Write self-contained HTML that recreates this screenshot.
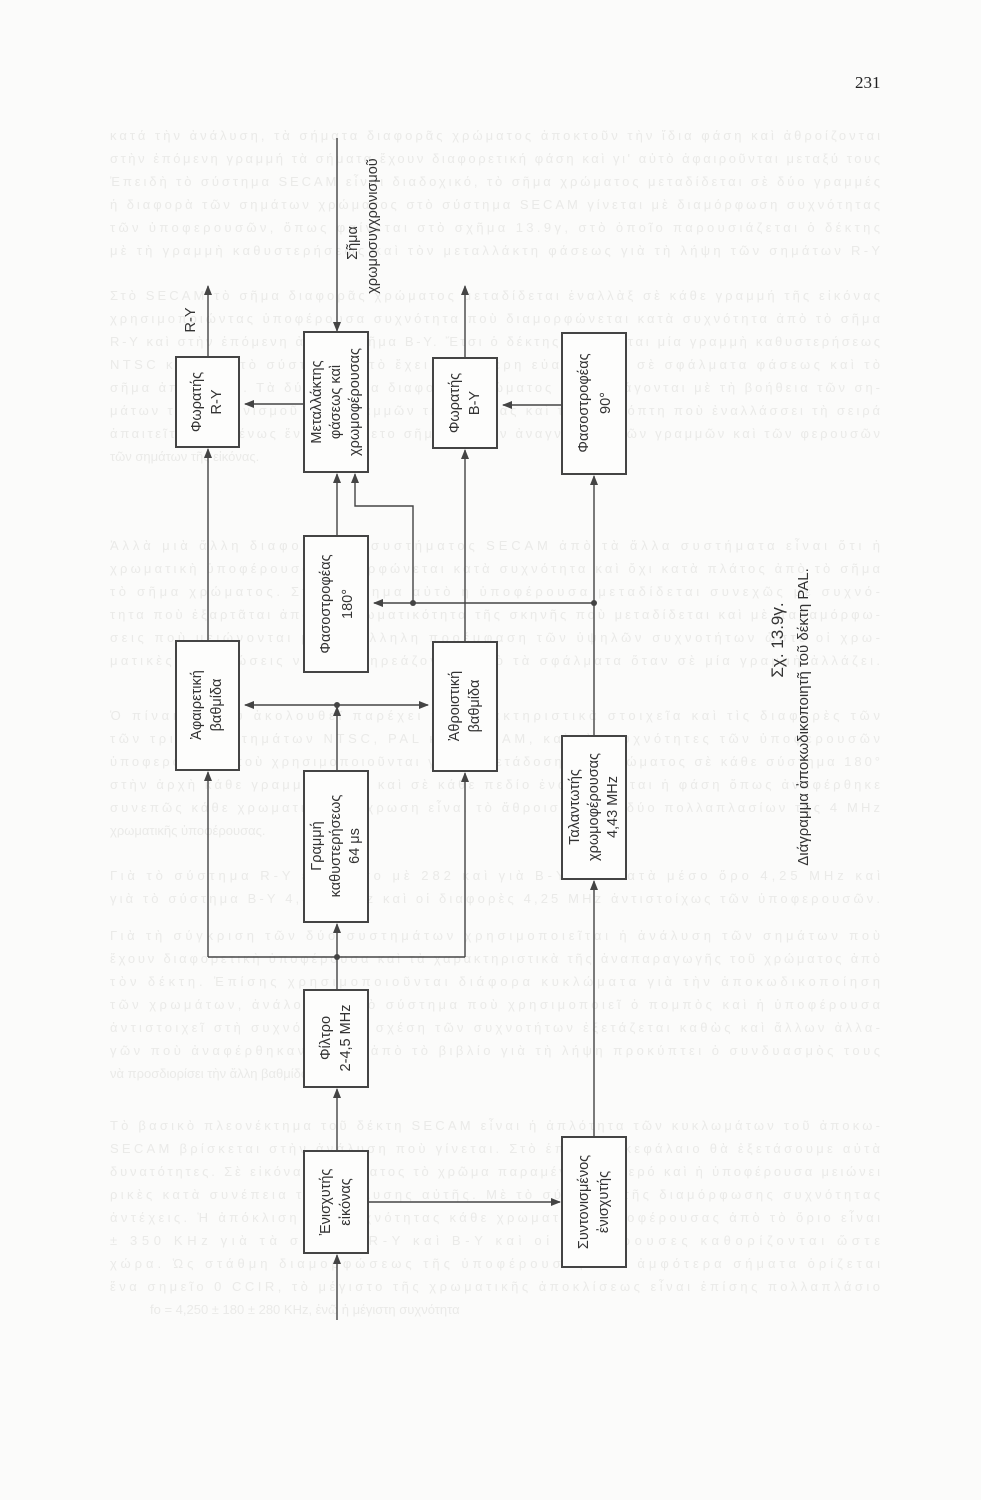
<!DOCTYPE html>
<html><head><meta charset="utf-8"><style>
html,body{margin:0;padding:0;background:#fbfbfa;}
svg{display:block}
text{font-family:"Liberation Sans","DejaVu Sans",sans-serif;fill:#333;}
.bg text{fill:#eaeae8;font-size:13px;}
</style></head><body>
<svg width="981" height="1500" viewBox="0 0 981 1500" xmlns="http://www.w3.org/2000/svg">
<defs><marker id="a" markerWidth="10" markerHeight="8" refX="9" refY="4" orient="auto" markerUnits="userSpaceOnUse"><path d="M0,0 L10,4 L0,8 Z" fill="#444"/></marker></defs>
<g class="bg">
<text x="110" y="140" textLength="770">κατά τὴν ἀνάλυση, τὰ σήματα διαφορᾶς χρώματος ἀποκτοῦν τὴν ἴδια φάση καὶ ἀθροίζονται</text>
<text x="110" y="163" textLength="770">στὴν ἐπόμενη γραμμή τὰ σήματα ἔχουν διαφορετική φάση καὶ γι' αὐτὸ ἀφαιροῦνται μεταξύ τους</text>
<text x="110" y="186" textLength="770">Ἐπειδὴ τὸ σύστημα SECAM εἶναι διαδοχικό, τὸ σῆμα χρώματος μεταδίδεται σὲ δύο γραμμές</text>
<text x="110" y="209" textLength="770">ἡ διαφορὰ τῶν σημάτων χρώματος στὸ σύστημα SECAM γίνεται μὲ διαμόρφωση συχνότητας</text>
<text x="110" y="232" textLength="770">τῶν ὑποφερουσῶν, ὅπως φαίνεται στὸ σχῆμα 13.9γ, στὸ ὁποῖο παρουσιάζεται ὁ δέκτης</text>
<text x="110" y="255" textLength="770">μὲ τὴ γραμμὴ καθυστερήσεως καὶ τὸν μεταλλάκτη φάσεως γιὰ τὴ λήψη τῶν σημάτων R-Y</text>
<text x="110" y="300" textLength="770">Στὸ SECAM τὸ σῆμα διαφορᾶς χρώματος μεταδίδεται ἐναλλὰξ σὲ κάθε γραμμή τῆς εἰκόνας</text>
<text x="110" y="323" textLength="770">χρησιμοποιώντας ὑποφέρουσα συχνότητα ποὺ διαμορφώνεται κατὰ συχνότητα ἀπὸ τὸ σῆμα</text>
<text x="110" y="346" textLength="770">R-Y καὶ στὴν ἐπόμενη ἀπὸ τὸ σῆμα B-Y. Ἔτσι ὁ δέκτης χρειάζεται μία γραμμὴ καθυστερήσεως</text>
<text x="110" y="369" textLength="770">NTSC καὶ PAL τὸ σύστημα αὐτὸ ἔχει μικρότερη εὐαισθησία σὲ σφάλματα φάσεως καὶ τὸ</text>
<text x="110" y="392" textLength="770">σῆμα ἀποκτᾶται. Τὰ δύο σήματα διαφορᾶς χρώματος ἀναπαράγονται μὲ τὴ βοήθεια τῶν ση-</text>
<text x="110" y="415" textLength="770">μάτων ταυτοχρονισμοῦ τῶν γραμμῶν τῆς εἰκόνας καὶ τοῦ διακόπτη ποὺ ἐναλλάσσει τὴ σειρά</text>
<text x="110" y="438" textLength="770">ἀπαιτεῖται ἐπομένως ἕνα πρόσθετο σῆμα γιὰ τὴν ἀναγνώριση τῶν γραμμῶν καὶ τῶν φερουσῶν</text>
<text x="110" y="461">τῶν σημάτων τῆς εἰκόνας.</text>
<text x="110" y="550" textLength="770">Ἀλλὰ μιὰ ἄλλη διαφορὰ τοῦ συστήματος SECAM ἀπὸ τὰ ἄλλα συστήματα εἶναι ὅτι ἡ</text>
<text x="110" y="573" textLength="770">χρωματικὴ ὑποφέρουσα διαμορφώνεται κατὰ συχνότητα καὶ ὄχι κατὰ πλάτος ἀπὸ τὸ σῆμα</text>
<text x="110" y="596" textLength="770">τὸ σῆμα χρώματος. Στὸ σύστημα αὐτὸ ἡ ὑποφέρουσα μεταδίδεται συνεχῶς μὲ συχνό-</text>
<text x="110" y="619" textLength="770">τητα ποὺ ἐξαρτᾶται ἀπὸ τὴ χρωματικότητα τῆς σκηνῆς ποὺ μεταδίδεται καὶ μὲ παραμόρφω-</text>
<text x="110" y="642" textLength="770">σεις ποὺ μειώνονται μὲ κατάλληλη προέμφαση τῶν ὑψηλῶν συχνοτήτων ὥστε οἱ χρω-</text>
<text x="110" y="665" textLength="770">ματικὲς ἀποχρώσεις νὰ μὴ ἐπηρεάζονται ἀπὸ τὰ σφάλματα ὅταν σὲ μία γραμμὴ ἀλλάζει.</text>
<text x="110" y="720" textLength="770">Ὁ πίνακας ποὺ ἀκολουθεῖ παρέχει τὰ χαρακτηριστικὰ στοιχεῖα καὶ τὶς διαφορὲς τῶν</text>
<text x="110" y="743" textLength="770">τῶν τριῶν συστημάτων NTSC, PAL καὶ SECAM, καὶ τὶς συχνότητες τῶν ὑποφερουσῶν</text>
<text x="110" y="766" textLength="770">ὑποφερουσῶν ποὺ χρησιμοποιοῦνται γιὰ τὴ μετάδοση τοῦ χρώματος σὲ κάθε σύστημα 180°</text>
<text x="110" y="789" textLength="770">στὴν ἀρχὴ κάθε γραμμῆς ἀλλὰ καὶ σὲ κάθε πεδίο ἐναλλάσσεται ἡ φάση ὅπως ἀναφέρθηκε</text>
<text x="110" y="812" textLength="770">συνεπῶς κάθε χρωματικὴ ἀπόχρωση εἶναι τὸ ἄθροισμα τῶν δύο πολλαπλασίων τῆς 4 MHz</text>
<text x="110" y="835">χρωματικῆς ὑποφέρουσας.</text>
<text x="110" y="880" textLength="770">Γιὰ τὸ σύστημα R-Y εἶναι ἴσο μὲ 282 καὶ γιὰ B-Y 272 κατὰ μέσο ὅρο 4,25 MHz καὶ</text>
<text x="110" y="903" textLength="770">γιὰ τὸ σύστημα B-Y 4,406 MHz καὶ οἱ διαφορὲς 4,25 MHz ἀντιστοίχως τῶν ὑποφερουσῶν.</text>
<text x="110" y="940" textLength="770">Γιὰ τὴ σύγκριση τῶν δύο συστημάτων χρησιμοποιεῖται ἡ ἀνάλυση τῶν σημάτων ποὺ</text>
<text x="110" y="963" textLength="770">ἔχουν διαφορετικὴ ὑποφέρουσα καὶ τὰ χαρακτηριστικὰ τῆς ἀναπαραγωγῆς τοῦ χρώματος ἀπὸ</text>
<text x="110" y="986" textLength="770">τὸν δέκτη. Ἐπίσης χρησιμοποιοῦνται διάφορα κυκλώματα γιὰ τὴν ἀποκωδικοποίηση</text>
<text x="110" y="1009" textLength="770">τῶν χρωμάτων, ἀνάλογα μὲ τὸ σύστημα ποὺ χρησιμοποιεῖ ὁ πομπὸς καὶ ἡ ὑποφέρουσα</text>
<text x="110" y="1032" textLength="770">ἀντιστοιχεῖ στὴ συχνότητα. Ἡ σχέση τῶν συχνοτήτων ἐξετάζεται καθὼς καὶ ἄλλων ἀλλα-</text>
<text x="110" y="1055" textLength="770">γῶν ποὺ ἀναφέρθηκαν. Ἔτσι ἀπὸ τὸ βιβλίο γιὰ τὴ λήψη προκύπτει ὁ συνδυασμὸς τους</text>
<text x="110" y="1078">νὰ προσδιορίσει τὴν ἄλλη βαθμίδα.</text>
<text x="110" y="1130" textLength="770">Τὸ βασικὸ πλεονέκτημα τοῦ δέκτη SECAM εἶναι ἡ ἀπλότητα τῶν κυκλωμάτων τοῦ ἀποκω-</text>
<text x="110" y="1153" textLength="770">SECAM βρίσκεται στὴν ἀνάλυση ποὺ γίνεται. Στὸ ἑπόμενο κεφάλαιο θὰ ἐξετάσουμε αὐτὰ</text>
<text x="110" y="1176" textLength="770">δυνατότητες. Σὲ εἰκόνα συστήματος τὸ χρῶμα παραμένει σταθερό καὶ ἡ ὑποφέρουσα μειώνει</text>
<text x="110" y="1199" textLength="770">ρικὲς κατὰ συνέπεια τῆς ἀνάλυσης αὐτῆς. Μὲ τὸ σύστημα τῆς διαμόρφωσης συχνότητας</text>
<text x="110" y="1222" textLength="770">ἀντέχεις. Ἡ ἀπόκλιση τῆς συχνότητας κάθε χρωματικῆς ὑποφέρουσας ἀπὸ τὸ ὄριο εἶναι</text>
<text x="110" y="1245" textLength="770">± 350 KHz γιὰ τὰ σήματα R-Y καὶ B-Y καὶ οἱ ὑποφέρουσες καθορίζονται ὥστε</text>
<text x="110" y="1268" textLength="770">χώρα. Ὡς στάθμη διαμορφώσεως τῆς ὑποφέρουσας ἀπὸ ἀμφότερα σήματα ὁρίζεται</text>
<text x="110" y="1291" textLength="770">ἕνα σημεῖο 0 CCIR, τὸ μέγιστο τῆς χρωματικῆς ἀποκλίσεως εἶναι ἐπίσης πολλαπλάσιο</text>
<text x="150" y="1314">fo = 4,250 ± 180 ± 280 KHz, ἐνῶ ἡ μέγιστη συχνότητα</text>
</g>
<text x="855" y="88" style="font-family:'Liberation Serif',serif;font-size:17px;fill:#222">231</text>

<g fill="#fdfdfc" stroke="#444" stroke-width="2">
<rect x="176" y="357" width="63" height="90"/>
<rect x="304" y="332" width="64" height="140"/>
<rect x="433" y="358" width="64" height="90"/>
<rect x="562" y="333" width="64" height="141"/>
<rect x="304" y="536" width="64" height="136"/>
<rect x="176" y="641" width="63" height="129"/>
<rect x="433" y="642" width="64" height="129"/>
<rect x="304" y="771" width="64" height="151"/>
<rect x="562" y="736" width="64" height="143"/>
<rect x="304" y="990" width="64" height="97"/>
<rect x="304" y="1151" width="64" height="102"/>
<rect x="562" y="1137" width="64" height="130"/>
</g>

<g stroke="#444" stroke-width="1.4" fill="none">
<line x1="208" y1="357" x2="208" y2="286" marker-end="url(#a)"/>
<line x1="465" y1="358" x2="465" y2="286" marker-end="url(#a)"/>
<line x1="337" y1="138" x2="337" y2="331" marker-end="url(#a)"/>
<line x1="304" y1="404" x2="245" y2="404" marker-end="url(#a)"/>
<line x1="562" y1="405" x2="503" y2="405" marker-end="url(#a)"/>
<line x1="337" y1="536" x2="337" y2="474" marker-end="url(#a)"/>
<polyline points="413,603 413,506 355,506 355,474" marker-end="url(#a)"/>
<line x1="594" y1="603" x2="374" y2="603" marker-end="url(#a)"/>
<line x1="594" y1="736" x2="594" y2="476" marker-end="url(#a)"/>
<line x1="208" y1="641" x2="208" y2="449" marker-end="url(#a)"/>
<line x1="465" y1="642" x2="465" y2="450" marker-end="url(#a)"/>
<line x1="337" y1="705" x2="245" y2="705" marker-end="url(#a)"/>
<line x1="337" y1="705" x2="428" y2="705" marker-end="url(#a)"/>
<line x1="337" y1="771" x2="337" y2="707" marker-end="url(#a)"/>
<line x1="208" y1="957" x2="465" y2="957"/>
<line x1="208" y1="957" x2="208" y2="772" marker-end="url(#a)"/>
<line x1="465" y1="957" x2="465" y2="773" marker-end="url(#a)"/>
<line x1="337" y1="990" x2="337" y2="924" marker-end="url(#a)"/>
<line x1="337" y1="1151" x2="337" y2="1089" marker-end="url(#a)"/>
<line x1="337" y1="1320" x2="337" y2="1255" marker-end="url(#a)"/>
<line x1="368" y1="1202" x2="560" y2="1202" marker-end="url(#a)"/>
<line x1="594" y1="1137" x2="594" y2="881" marker-end="url(#a)"/>
</g>
<g fill="#444">
<circle cx="413" cy="603" r="3"/><circle cx="594" cy="603" r="3"/>
<circle cx="337" cy="705" r="3"/><circle cx="337" cy="957" r="3"/>
</g>

<g style="font-size:14.5px" text-anchor="middle">
<g transform="translate(207,402) rotate(-90)"><text y="-6">Φωρατής</text><text y="14">R-Y</text></g>
<g transform="translate(190,320) rotate(-90)"><text y="5">R-Y</text></g>
<g transform="translate(336,402) rotate(-90)"><text y="-15">Μεταλλάκτης</text><text y="4">φάσεως καὶ</text><text y="23">χρωμοφέρουσας</text></g>
<g transform="translate(465,403) rotate(-90)"><text y="-6">Φωρατής</text><text y="14">B-Y</text></g>
<g transform="translate(594,403) rotate(-90)"><text y="-6">Φασοστροφέας</text><text y="16">90°</text></g>
<g transform="translate(336,604) rotate(-90)"><text y="-6">Φασοστροφέας</text><text y="16">180°</text></g>
<g transform="translate(207,705) rotate(-90)"><text y="-6">Ἀφαιρετική</text><text y="14">βαθμίδα</text></g>
<g transform="translate(465,706) rotate(-90)"><text y="-6">Ἀθροιστική</text><text y="14">βαθμίδα</text></g>
<g transform="translate(336,846) rotate(-90)"><text y="-15">Γραμμή</text><text y="4">καθυστερήσεως</text><text y="23">64 μs</text></g>
<g transform="translate(594,807) rotate(-90)"><text y="-15">Ταλαντωτής</text><text y="4">χρωμοφέρουσας</text><text y="23">4,43 MHz</text></g>
<g transform="translate(336,1038) rotate(-90)"><text y="-6">Φίλτρο</text><text y="14">2-4,5 MHz</text></g>
<g transform="translate(336,1202) rotate(-90)"><text y="-6">Ἐνισχυτής</text><text y="14">εἰκόνας</text></g>
<g transform="translate(594,1202) rotate(-90)"><text y="-6">Συντονισμένος</text><text y="14">ἐνισχυτής</text></g>
<g transform="translate(352,243) rotate(-90)"><text y="5">Σῆμα</text></g>
<g transform="translate(372,226) rotate(-90)"><text y="5">χρωμοσυγχρονισμοῦ</text></g>
<g transform="translate(778,640) rotate(-90)"><text y="5" style="font-size:17px">Σχ. 13.9γ.</text></g>
<g transform="translate(803,717) rotate(-90)"><text y="5" style="font-size:15px">Διάγραμμα ἀποκωδικοποιητῆ τοῦ δέκτη PAL.</text></g>
</g>
</svg>
</body></html>
